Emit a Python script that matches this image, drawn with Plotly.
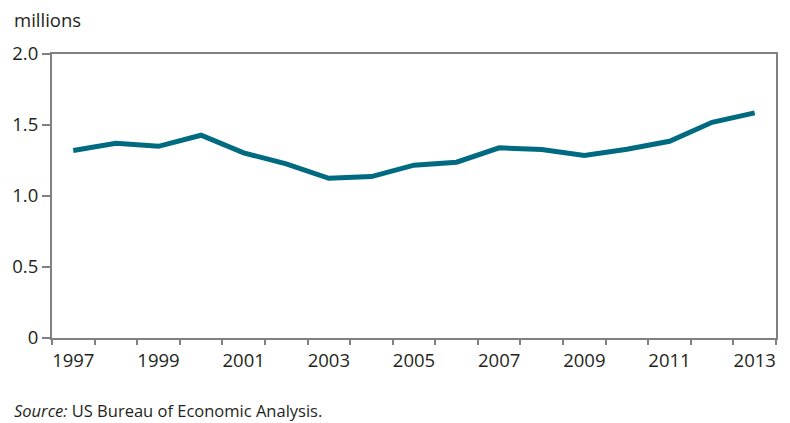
import plotly.graph_objects as go

years = list(range(1997, 2014))
values = [1.32, 1.371, 1.350, 1.428, 1.304, 1.226, 1.125, 1.137, 1.217, 1.238,
          1.339, 1.327, 1.285, 1.329, 1.385, 1.519, 1.585]
tick_years = list(range(1997, 2014, 2))
boundaries = [y - 0.5 for y in years] + [years[-1] + 0.5]
y_ticks = [0, 0.5, 1.0, 1.5, 2.0]
y_labels = ["0", "0.5", "1.0", "1.5", "2.0"]

FONT = "Open Sans"
axis_col = "#808080"
ML, MR, MT, MB = 52, 12, 54, 85

fig = go.Figure()
fig.add_trace(go.Scatter(x=years, y=values, mode="lines",
                         line=dict(color="#006b80", width=5),
                         hoverinfo="x+y"))
# invisible trace to activate the tick-mark axis
fig.add_trace(go.Scatter(x=[years[0]], y=[values[0]], xaxis="x2", mode="markers",
                         marker=dict(opacity=0), hoverinfo="skip"))

xr = [years[0] - 0.5, years[-1] + 0.5]
fig.update_layout(
    width=790, height=423,
    margin=dict(l=ML, r=MR, t=MT, b=MB),
    paper_bgcolor="white", plot_bgcolor="white",
    showlegend=False,
    font=dict(family=FONT, size=18, color="#231f20"),
    xaxis=dict(
        range=xr,
        tickvals=tick_years, ticktext=[str(y) for y in tick_years],
        ticks="", ticklabelstandoff=5,
        showline=True, linecolor=axis_col, linewidth=2, mirror=True,
        showgrid=False, zeroline=False,
        tickfont=dict(size=18.5),
    ),
    xaxis2=dict(
        range=xr, overlaying="x", anchor="y", side="bottom",
        tickvals=boundaries, ticktext=[""] * len(boundaries),
        ticks="outside", ticklen=6, tickcolor=axis_col, tickwidth=1.5,
        showline=False, showgrid=False, zeroline=False,
    ),
    yaxis=dict(
        range=[0, 2.0],
        tickvals=y_ticks, ticktext=y_labels,
        ticks="outside", ticklen=8, tickcolor=axis_col, tickwidth=1.5,
        showline=True, linecolor=axis_col, linewidth=2, mirror=True,
        showgrid=False, zeroline=False,
        tickfont=dict(size=18.5),
    ),
)

pw = 790 - ML - MR
ph = 423 - MT - MB
def px2paper(px, py):
    return (px - ML) / pw, 1 - (py - MT) / ph

ax, ay = px2paper(12, 19)
fig.add_annotation(text="millions", x=ax, y=ay, xref="paper", yref="paper",
                   showarrow=False, xanchor="left", yanchor="middle",
                   font=dict(size=18.5))
sx, sy = px2paper(12, 410)
fig.add_annotation(text="<i>Source:</i> US Bureau of Economic Analysis.",
                   x=sx, y=sy, xref="paper", yref="paper",
                   showarrow=False, xanchor="left", yanchor="middle",
                   font=dict(size=16.5))

fig.write_html("out.html", config={"displayModeBar": False},
               post_script="document.body.style.margin='0';")
